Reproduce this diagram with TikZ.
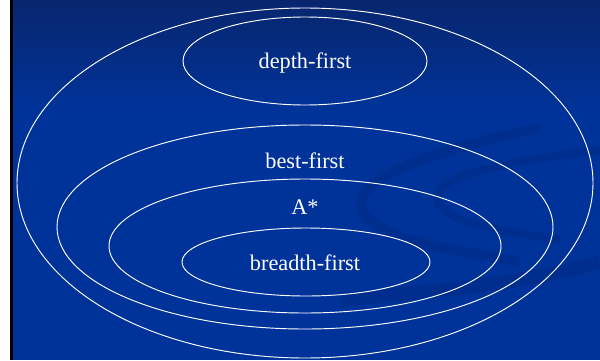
\documentclass[tikz,border=0pt]{standalone}
\usepackage{fontspec}
\setmainfont{Liberation Serif}
\usepackage{tikz}
\definecolor{bgblue}{RGB}{0,51,153}
\definecolor{topblue}{RGB}{8,38,110}
\definecolor{swirl}{RGB}{0,40,130}
\tikzset{
  lbl/.style={text=white,font=\fontsize{19}{22}\selectfont},
  ring/.style={draw=white,line width=0.8pt}
}
\begin{document}
\begin{tikzpicture}[x=0.03cm, y=-0.03cm]
  % frame
  \useasboundingbox (0,0) rectangle (600,360);
  \fill[white] (0,0) rectangle (10,360);
  \fill[black] (10,0) rectangle (13,360);
  % background
  \shade[top color=topblue,bottom color=bgblue] (13,0) rectangle (600,110);
  \fill[bgblue] (13,110) rectangle (600,360);
  % swirls
  \draw[swirl,line width=9pt,opacity=0.4] (540,128) .. controls (430,150) and (330,185) .. (370,220) .. controls (400,245) and (460,250) .. (520,262);
  \draw[swirl,line width=7pt,opacity=0.4] (600,150) .. controls (520,160) and (420,175) .. (440,205) .. controls (455,225) and (500,230) .. (560,240);
  \draw[swirl,line width=12pt,opacity=0.4] (340,300) .. controls (440,290) and (520,285) .. (600,262);
  % ellipses
  \draw[ring] (305,183) ellipse (288 and 175);
  \draw[ring] (305,61) ellipse (122 and 44);
  \draw[ring] (305,227) ellipse (248 and 102);
  \draw[ring] (305,246) ellipse (196 and 67);
  \draw[ring] (306,262) ellipse (124 and 34);
  % labels
  \node[lbl] (depth) at (305,63) {depth-first};
  \node[lbl] (best) at (305,161) {best-first};
  \node[lbl] (astar) at (305,207) {A*};
  \node[lbl] (breadth) at (305,263) {breadth-first};
\end{tikzpicture}
\end{document}
